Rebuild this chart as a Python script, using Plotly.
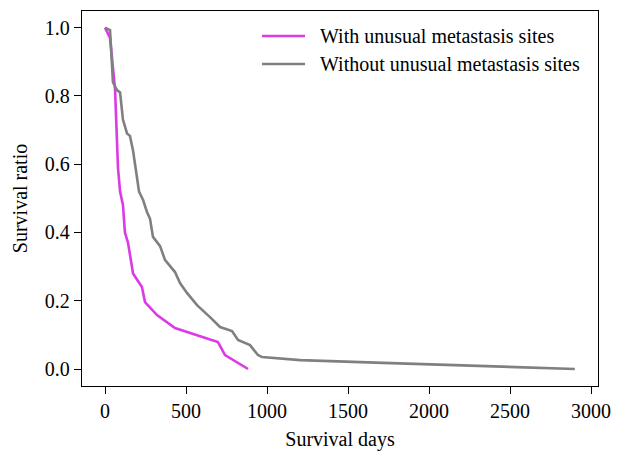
import plotly.graph_objects as go

# With unusual metastasis sites
with_days = [0, 31, 62, 80, 93, 111, 123, 142, 173, 228, 247, 321, 432, 697, 741, 883]
with_surv = [1.0, 0.97, 0.82, 0.59, 0.52, 0.48, 0.40, 0.37, 0.28, 0.24, 0.196, 0.158, 0.12, 0.079, 0.041, 0.0]

# Without unusual metastasis sites
without_days = [0, 31, 49, 74, 93, 111, 136, 154, 173, 210, 235, 259, 278, 296, 340, 370, 432,
                463, 506, 568, 648, 710, 784, 821, 895, 944, 969, 1204, 1716, 2333, 2900]
without_surv = [1.0, 0.993, 0.84, 0.817, 0.81, 0.73, 0.69, 0.683, 0.64, 0.52, 0.495, 0.46, 0.44,
                0.387, 0.36, 0.32, 0.284, 0.252, 0.223, 0.187, 0.152, 0.123, 0.111, 0.085, 0.07,
                0.041, 0.035, 0.026, 0.018, 0.009, 0.0]

series_names = ["With unusual metastasis sites", "Without unusual metastasis sites"]
series_colors = ["#dc3ae6", "#808080"]

x_ticks = [0, 500, 1000, 1500, 2000, 2500, 3000]
y_ticks = [0.0, 0.2, 0.4, 0.6, 0.8, 1.0]

FONT = "Liberation Serif"
FS = 20

W, H = 621, 453
ML, MR, MT, MB = 82, 23, 11, 67
PW, PH = W - ML - MR, H - MT - MB

fig = go.Figure()
for xs, ys, nm, col in [(with_days, with_surv, series_names[0], series_colors[0]),
                        (without_days, without_surv, series_names[1], series_colors[1])]:
    fig.add_trace(go.Scatter(x=xs, y=ys, mode="lines", name=nm,
                             line=dict(color=col, width=2.6), showlegend=False))

axis_common = dict(showline=True, linecolor="black", linewidth=1.3, mirror=True,
                   ticks="outside", ticklen=7, tickwidth=1.3, tickcolor="black",
                   showgrid=False, zeroline=False, automargin=False,
                   tickfont=dict(family=FONT, size=FS, color="black"))

fig.update_xaxes(range=[-142, 3043], tickvals=x_ticks,
                 ticktext=[str(v) for v in x_ticks],
                 title=dict(text="Survival days", font=dict(family=FONT, size=FS, color="black"), standoff=10),
                 **axis_common)
fig.update_yaxes(range=[-0.0498, 1.0488], tickvals=y_ticks,
                 ticktext=[f"{v:.1f}" for v in y_ticks],
                 title=dict(text="Survival ratio", font=dict(family=FONT, size=FS, color="black"), standoff=11),
                 **axis_common)

# manual legend (matplotlib style)
def px_to_paper(px, py):
    return (px - ML) / PW, (H - MB - py) / PH

legend_rows_y = [36, 64]
for i, (nm, col) in enumerate(zip(series_names, series_colors)):
    x0, y0 = px_to_paper(262, legend_rows_y[i])
    x1, _ = px_to_paper(305, legend_rows_y[i])
    tx, _ = px_to_paper(318, legend_rows_y[i])
    fig.add_shape(type="line", xref="paper", yref="paper", x0=x0, x1=x1, y0=y0, y1=y0,
                  line=dict(color=col, width=2.6))
    fig.add_annotation(xref="paper", yref="paper", x=tx, y=y0, text=nm, showarrow=False,
                       xanchor="left", yanchor="middle",
                       font=dict(family=FONT, size=FS, color="black"))

fig.update_layout(
    width=W, height=H,
    margin=dict(l=ML, r=MR, t=MT, b=MB),
    paper_bgcolor="white", plot_bgcolor="white",
    font=dict(family=FONT, size=FS, color="black"),
    showlegend=False,
)

fig.write_html("out.html")
